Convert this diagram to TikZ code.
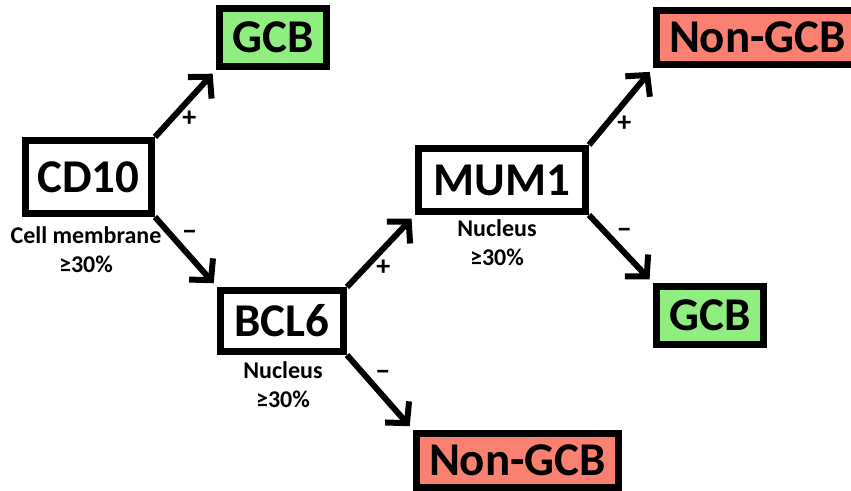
\documentclass[tikz,border=0pt]{standalone}
\usepackage{fontspec}
\setmainfont{Carlito}
\usetikzlibrary{arrows.meta}
\definecolor{gcbgreen}{RGB}{144,238,128}
\definecolor{nongcbred}{RGB}{250,128,114}

\begin{document}
\begin{tikzpicture}[x=1pt,y=-1pt,
        box/.style={draw,line width=7pt,outer sep=3.5pt,inner sep=0pt,
            font=\bfseries\fontsize{47}{50}\selectfont},
        gcb/.style={box,fill=gcbgreen,minimum width=107pt,minimum height=58pt},
        nongcb/.style={box,fill=nongcbred,minimum width=202pt,minimum height=54pt},
        note/.style={align=center,inner sep=0pt,font=\bfseries\fontsize{24}{29}\selectfont},
        branch/.style={line width=6pt,-{Straight Barb[length=15pt,width=32pt]},shorten >=5pt},
        sign/.style={pos=0.27,anchor=west,xshift=8pt,inner sep=0pt,
            font=\bfseries\fontsize{28}{28}\selectfont}]
    \useasboundingbox (0,0) rectangle (851,490);
    % Markers
    \node[box,minimum width=126pt,minimum height=73pt] (cd10) at (88.5,177) {CD10};
    \node[box,minimum width=123pt,minimum height=61pt] (bcl6) at (282,321) {BCL6};
    \node[box,minimum width=167pt,minimum height=63pt] (mum1) at (502,180) {MUM1};
    % Staining criteria
    \node[note] (cd10note) at (86,250) {Cell membrane\\≥30\%};
    \node[note] (bcl6note) at (283,385) {Nucleus\\≥30\%};
    \node[note] (mum1note) at (497,243) {Nucleus\\≥30\%};
    % Outcomes
    \node[gcb] (gcbtop) at (273,37.5) {GCB};
    \node[gcb] (gcbright) at (710,315.5) {GCB};
    \node[nongcb] (nongcbtop) at (757.5,37.5) {Non-GCB};
    \node[nongcb] (nongcbbottom) at (517.5,460.5) {Non-GCB};
    % Branches
    \draw[branch] (cd10.north east) -- node[sign] {+} (gcbtop.south west);
    \draw[branch] (cd10.south east) -- node[sign] {−} (bcl6.north west);
    \draw[branch] (bcl6.north east) -- node[sign] {+} (mum1.south west);
    \draw[branch] (bcl6.south east) -- node[sign] {−} (nongcbbottom.north west);
    \draw[branch] (mum1.north east) -- node[sign] {+} (nongcbtop.south west);
    \draw[branch] (mum1.south east) -- node[sign] {−} (gcbright.north west);
\end{tikzpicture}
\end{document}
